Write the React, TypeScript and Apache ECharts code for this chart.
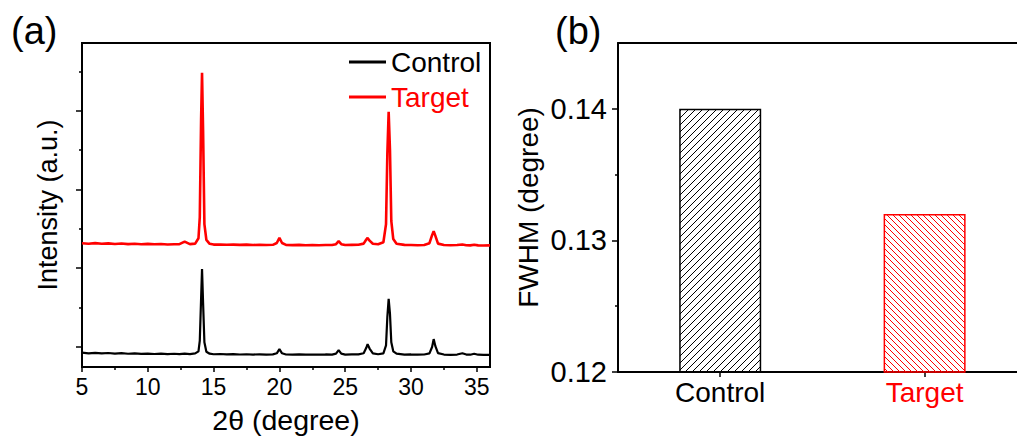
import React, { useEffect, useRef } from "react";
import * as echarts from "echarts";

// ---------- Data ----------
const twoTheta = [
  5.0, 5.5, 6.0, 6.5, 7.0, 7.5, 8.0, 8.5, 9.0, 9.5,
  10.0, 10.5, 11.0, 11.5, 12.0, 12.4, 12.8, 13.2, 13.6, 13.85,
  13.95, 14.05, 14.12, 14.2, 14.3, 14.45, 14.7, 15.0, 15.5, 16.0,
  16.5, 17.0, 17.5, 18.0, 18.5, 19.0, 19.5, 19.8, 20.0, 20.2,
  20.5, 21.0, 21.5, 22.0, 22.5, 23.0, 23.5, 24.0, 24.3, 24.5,
  24.7, 25.0, 25.5, 26.0, 26.4, 26.6, 26.7, 26.85, 27.1, 27.5,
  27.9, 28.1, 28.2, 28.3, 28.4, 28.5, 28.65, 28.9, 29.5, 30.0,
  30.5, 31.0, 31.4, 31.6, 31.72, 31.85, 32.05, 32.5, 33.0, 33.5,
  33.9, 34.2, 34.5, 34.8, 35.1, 35.5, 36.0,
];

const controlIntensity = [
  -72, -80, -74, -82, -76, -84, -79, -86, -81, -87,
  -83, -89, -85, -90, -86, -90, -84, -90, -82, -55,
  80, 620, 990, 560, 60, -60, -85, -92, -89, -94,
  -91, -95, -92, -96, -93, -96, -94, -80, -28, -80,
  -95, -97, -94, -98, -95, -98, -95, -96, -85, -40,
  -85, -96, -95, -94, -80, -10, 35, -20, -82, -92,
  -80, 20, 380, 612, 420, 60, -55, -85, -96, -95,
  -98, -95, -82, 0, 100, 10, -78, -96, -99, -96,
  -80, -96, -98, -86, -98, -100, -99,
];

const targetIntensity = [
  1316, 1310, 1318, 1311, 1315, 1308, 1313, 1306, 1311, 1305,
  1309, 1304, 1307, 1302, 1305, 1306, 1338, 1306, 1312, 1380,
  1650, 2900, 3480, 2750, 1560, 1360, 1310, 1300, 1302, 1297,
  1300, 1296, 1299, 1295, 1298, 1294, 1297, 1320, 1385, 1320,
  1296, 1293, 1296, 1292, 1295, 1292, 1295, 1294, 1305, 1343,
  1305, 1294, 1296, 1298, 1312, 1365, 1385, 1350, 1310, 1305,
  1330, 1560, 2450, 2985, 2500, 1600, 1370, 1310, 1296, 1294,
  1292, 1295, 1318, 1420, 1470, 1410, 1312, 1294, 1292, 1294,
  1302, 1292, 1290, 1298, 1290, 1289, 1290,
];

const xTickValues = [5, 10, 15, 20, 25, 30, 35];
const xMinorTickValues = [7.5, 12.5, 17.5, 22.5, 27.5, 32.5];
const yMajorTickValues = [0, 1000, 2000, 3000];
const yMinorTickValues = [500, 1500, 2500, 3500];

const fwhmCategories = ["Control", "Target"];
const fwhmValues = [0.14, 0.132];
const fwhmTickValues = [0.12, 0.13, 0.14];
const fwhmMinorTickValues = [0.125, 0.135];

// ---------- Styling helpers ----------
const FONT = "'Liberation Sans', Arial, Helvetica, sans-serif";
const RED = "#ff0000";

function hatch(dir: "/" | "\\", color: string, size: number) {
  const s = size;
  const d =
    dir === "/"
      ? `M-1,1 l2,-2 M0,${s} l${s},-${s} M${s - 1},${s + 1} l2,-2`
      : `M-1,${s - 1} l2,2 M0,0 l${s},${s} M${s - 1},-1 l2,2`;
  const svg = `<svg xmlns='http://www.w3.org/2000/svg' width='${s}' height='${s}'><path d='${d}' stroke='${color}' stroke-width='1' fill='none'/></svg>`;
  return {
    image: "data:image/svg+xml;charset=utf-8," + encodeURIComponent(svg),
    repeat: "repeat",
    imageWidth: s,
    imageHeight: s,
  };
}

export default function App() {
  const ref = useRef<HTMLDivElement | null>(null);

  useEffect(() => {
    document.body.style.margin = "0";
    if (!ref.current) return;
    const chart = echarts.init(ref.current, undefined, { renderer: "svg" });

    const axisLineStyle = { color: "#000", width: 2 };
    const tickLine = { color: "#000", width: 1.5 };

    const option: any = {
      animation: false,
      backgroundColor: "#fff",
      textStyle: { fontFamily: FONT, color: "#000" },
      graphic: [
        {
          type: "text",
          left: 11,
          top: 12,
          style: { text: "(a)", fontSize: 38, fill: "#000", fontFamily: FONT },
        },
        {
          type: "text",
          left: 555,
          top: 12,
          style: { text: "(b)", fontSize: 38, fill: "#000", fontFamily: FONT },
        },
      ],
      legend: {
        data: [
          { name: "Control", textStyle: { color: "#000" } },
          { name: "Target", textStyle: { color: RED } },
        ],
        orient: "vertical",
        left: 349,
        top: 48,
        padding: 0,
        itemWidth: 37,
        itemHeight: 3,
        itemGap: 7,
        icon: "rect",
        selectedMode: false,
        textStyle: { fontSize: 28, fontFamily: FONT },
      },
      grid: [
        {
          left: 82,
          top: 43,
          width: 408,
          height: 329,
          show: true,
          borderColor: "#000",
          borderWidth: 2,
          backgroundColor: "transparent",
        },
        {
          left: 618,
          top: 43,
          width: 399,
          height: 329,
          show: false,
        },
      ],
      xAxis: [
        {
          gridIndex: 0,
          type: "value",
          min: 5,
          max: 36,
          position: "bottom",
          axisLine: { show: true, onZero: false, lineStyle: axisLineStyle },
          axisTick: {
            show: true,
            inside: false,
            length: 5,
            customValues: xTickValues,
            lineStyle: tickLine,
          },
          axisLabel: {
            customValues: xTickValues,
            fontSize: 23,
            color: "#000",
            margin: 8,
            fontFamily: FONT,
          },
          splitLine: { show: false },
          name: "2θ (degree)",
          nameLocation: "middle",
          nameGap: 38,
          nameTextStyle: { fontSize: 28.5, color: "#000", fontFamily: FONT },
        },
        {
          gridIndex: 0,
          type: "value",
          min: 5,
          max: 36,
          position: "bottom",
          axisLine: { show: false, onZero: false },
          axisTick: {
            show: true,
            inside: false,
            length: 3,
            customValues: xMinorTickValues,
            lineStyle: tickLine,
          },
          axisLabel: { show: false },
          splitLine: { show: false },
        },
        {
          // panel (b) category positions: 0 = Control, 1 = Target
          gridIndex: 1,
          type: "value",
          min: -0.5,
          max: 1.452,
          position: "bottom",
          axisLine: { show: true, onZero: false, lineStyle: axisLineStyle },
          axisTick: {
            show: true,
            inside: false,
            length: 5,
            customValues: [0, 1],
            lineStyle: tickLine,
          },
          axisLabel: {
            customValues: [0, 1],
            formatter: (v: number) => fwhmCategories[Math.round(v)] ?? "",
            fontSize: 28,
            margin: 6,
            fontFamily: FONT,
            color: (v: any) => (Math.round(Number(v)) === 1 ? RED : "#000"),
          },
          splitLine: { show: false },
        },
        {
          // top frame line of panel (b)
          gridIndex: 1,
          type: "value",
          min: -0.5,
          max: 1.452,
          position: "top",
          axisLine: { show: true, onZero: false, lineStyle: axisLineStyle },
          axisTick: { show: false },
          axisLabel: { show: false },
          splitLine: { show: false },
        },
      ],
      yAxis: [
        {
          gridIndex: 0,
          type: "value",
          min: -254,
          max: 3859,
          position: "left",
          axisLine: { show: true, onZero: false, lineStyle: axisLineStyle },
          axisTick: {
            show: true,
            inside: false,
            length: 6,
            customValues: yMajorTickValues,
            lineStyle: tickLine,
          },
          axisLabel: { show: false },
          splitLine: { show: false },
          name: "Intensity (a.u.)",
          nameLocation: "middle",
          nameGap: 21,
          nameTextStyle: { fontSize: 27, color: "#000", fontFamily: FONT },
        },
        {
          gridIndex: 0,
          type: "value",
          min: -254,
          max: 3859,
          position: "left",
          axisLine: { show: false, onZero: false },
          axisTick: {
            show: true,
            inside: false,
            length: 3,
            customValues: yMinorTickValues,
            lineStyle: tickLine,
          },
          axisLabel: { show: false },
          splitLine: { show: false },
        },
        {
          gridIndex: 1,
          type: "value",
          min: 0.12,
          max: 0.145,
          position: "left",
          axisLine: { show: true, onZero: false, lineStyle: axisLineStyle },
          axisTick: {
            show: true,
            inside: false,
            length: 6,
            customValues: fwhmTickValues,
            lineStyle: tickLine,
          },
          axisLabel: {
            customValues: fwhmTickValues,
            formatter: (v: number) => v.toFixed(2),
            fontSize: 29,
            color: "#000",
            margin: 11,
            fontFamily: FONT,
          },
          splitLine: { show: false },
          name: "FWHM (degree)",
          nameLocation: "middle",
          nameGap: 76,
          nameTextStyle: { fontSize: 28, color: "#000", fontFamily: FONT },
        },
        {
          gridIndex: 1,
          type: "value",
          min: 0.12,
          max: 0.145,
          position: "left",
          axisLine: { show: false, onZero: false },
          axisTick: {
            show: true,
            inside: false,
            length: 3,
            customValues: fwhmMinorTickValues,
            lineStyle: tickLine,
          },
          axisLabel: { show: false },
          splitLine: { show: false },
        },
      ],
      series: [
        {
          name: "Control",
          type: "line",
          xAxisIndex: 0,
          yAxisIndex: 0,
          data: twoTheta.map((x, i) => [x, controlIntensity[i]]),
          showSymbol: false,
          symbol: "none",
          lineStyle: { color: "#000", width: 2.2 },
          itemStyle: { color: "#000" },
          z: 3,
        },
        {
          name: "Target",
          type: "line",
          xAxisIndex: 0,
          yAxisIndex: 0,
          data: twoTheta.map((x, i) => [x, targetIntensity[i]]),
          showSymbol: false,
          symbol: "none",
          lineStyle: { color: RED, width: 2.6 },
          itemStyle: { color: RED },
          z: 3,
        },
        {
          name: "FWHM",
          type: "bar",
          xAxisIndex: 2,
          yAxisIndex: 2,
          barWidth: 82,
          clip: true,
          data: fwhmValues.map((v, i) => ({
            value: [i, v],
            itemStyle:
              i === 0
                ? { color: hatch("/", "#000", 7), borderColor: "#000", borderWidth: 1.5 }
                : { color: hatch("\\", RED, 6), borderColor: RED, borderWidth: 1.5 },
          })),
        },
      ],
    };

    chart.setOption(option);
    return () => chart.dispose();
  }, []);

  return (
    <div
      ref={ref}
      style={{ position: "absolute", left: 0, top: 0, width: 1017, height: 439 }}
    />
  );
}
